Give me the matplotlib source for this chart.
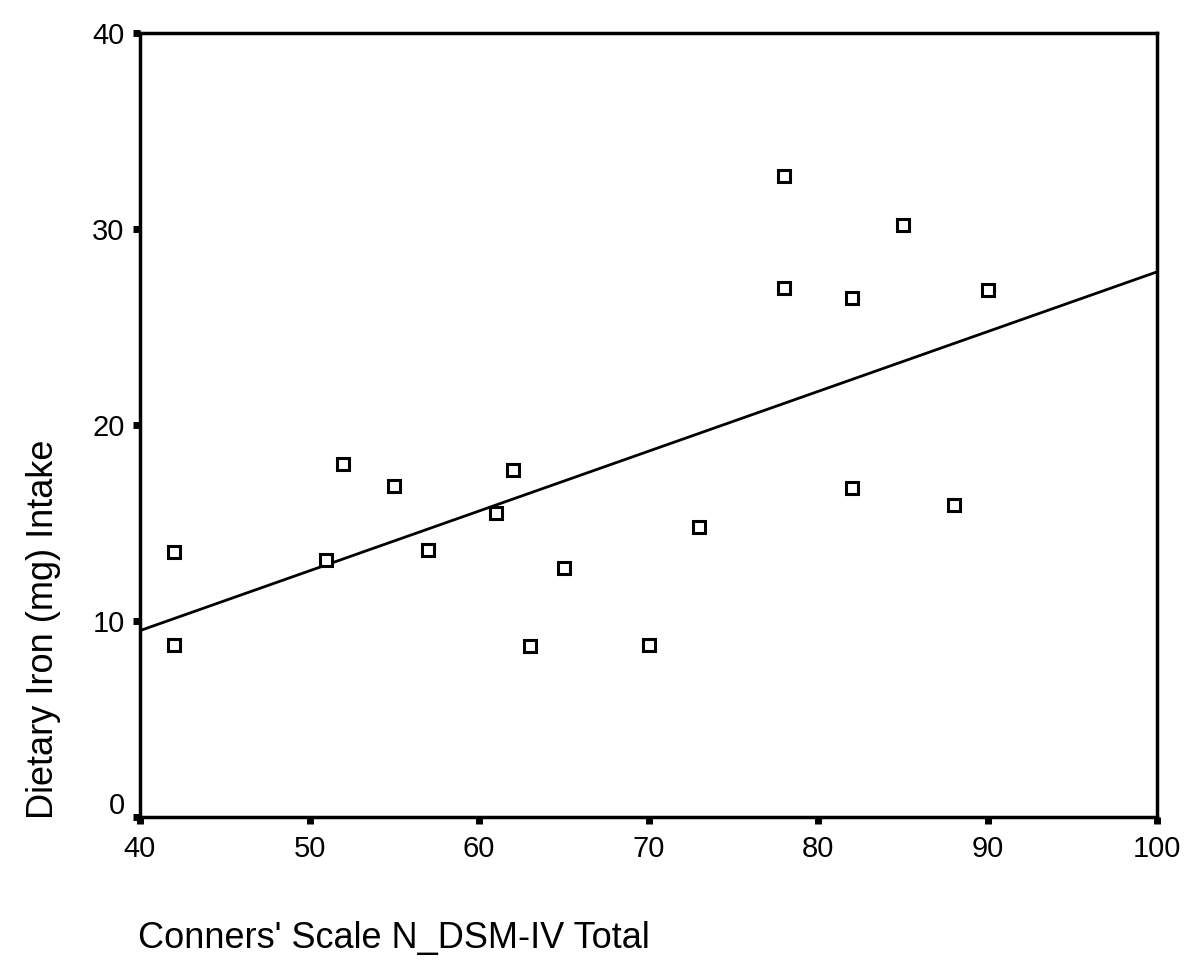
import numpy as np
import matplotlib
matplotlib.use("Agg")
import matplotlib.pyplot as plt
from matplotlib.transforms import ScaledTranslation

plt.rcParams['font.family'] = ['Liberation Sans', 'DejaVu Sans']

conners = [42, 42, 51, 52, 55, 57, 61, 62, 63, 65, 70, 73, 78, 78, 82, 82, 85, 88, 90]
iron = [13.5, 8.8, 13.1, 18.0, 16.9, 13.6, 15.5, 17.7, 8.7, 12.7, 8.8, 14.8, 32.7, 27.0, 26.5, 16.8, 30.2, 15.9, 26.9]
x_ticks = [40, 50, 60, 70, 80, 90, 100]
y_ticks = [0, 10, 20, 30, 40]
x_label = "Conners' Scale N_DSM-IV Total"
y_label = "Dietary Iron (mg) Intake"

W, H = 1200, 968
fig = plt.figure(figsize=(W / 100, H / 100), dpi=100)
ax = fig.add_axes([140 / W, 1 - 817 / H, (1157 - 140) / W, (817 - 33) / H])

ax.set_xlim(40, 100)
ax.set_ylim(0, 40)

# regression line
slope, intercept = np.polyfit(conners, iron, 1)
xs = np.array([40, 100])
ax.plot(xs, intercept + slope * xs, color='black', lw=2, zorder=2)

ax.plot(conners, iron, linestyle='none', marker='s', markersize=9,
        markerfacecolor='white', markeredgecolor='black', markeredgewidth=2.2, zorder=3)

for s in ax.spines.values():
    s.set_linewidth(2.5)

ax.set_xticks(x_ticks)
ax.set_yticks(y_ticks)
ax.tick_params(axis='both', direction='out', length=5, width=5, labelsize=21, colors='black')
ax.tick_params(axis='x', pad=8)
ax.tick_params(axis='y', pad=6)

fig.canvas.draw()
# shift '0' label upward as in reference
lab0 = ax.get_yticklabels()[0]
lab0.set_transform(lab0.get_transform() + ScaledTranslation(0, 14 / 100, fig.dpi_scale_trans))

fig.text(138 / W, 1 - 948 / H, x_label, fontsize=26, ha='left', va='baseline')
fig.text(61 / W, 1 - 819 / H, y_label, fontsize=26, rotation=90, ha='right', va='bottom')

fig.savefig('out.png', dpi=100)
